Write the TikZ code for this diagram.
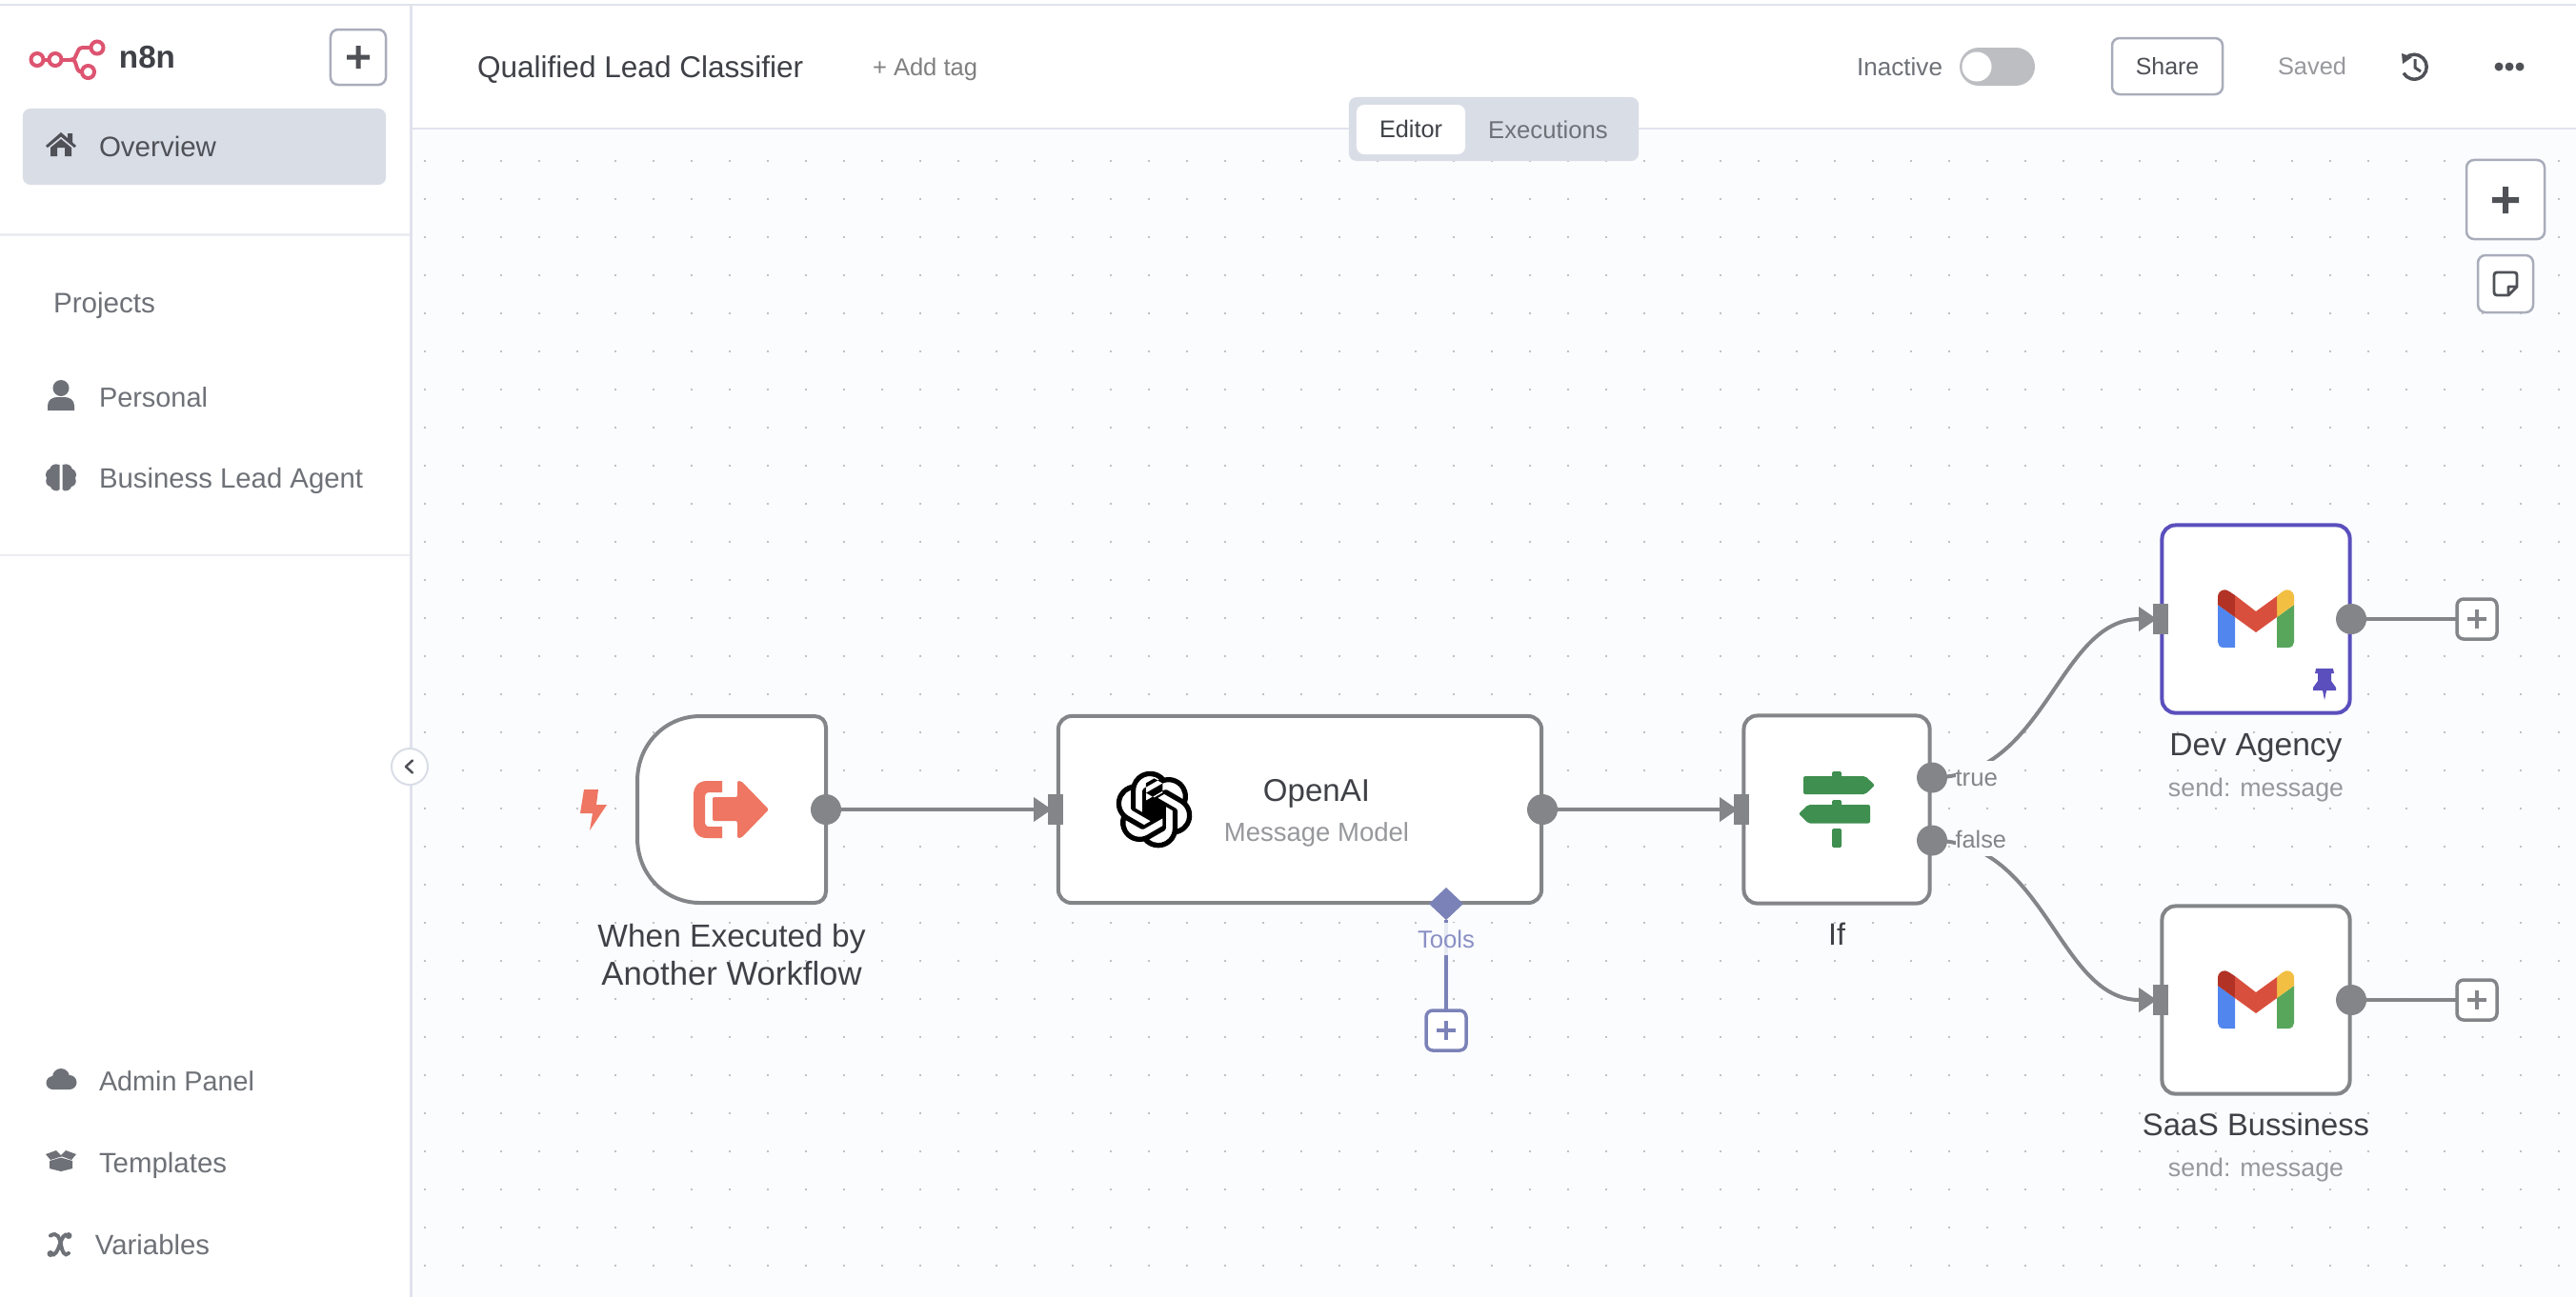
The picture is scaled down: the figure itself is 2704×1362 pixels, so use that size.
\documentclass[tikz,border=0pt]{standalone}
\usepackage{fontspec}
\usepackage{graphicx}
\setmainfont{Liberation Sans}
\usetikzlibrary{arrows.meta,shapes.geometric,calc,svg.path}
\newdimen\pxu \pxu=0.28453pt
\newcommand\fitw[2]{\resizebox{#1\pxu}{!}{\rule[-.3em]{0pt}{1.3em}#2}}
\definecolor{canvas}{HTML}{FBFCFE}
\definecolor{rulec}{HTML}{E0E3EC}
\definecolor{softrule}{HTML}{ECEDF2}
\definecolor{panel}{HTML}{D9DDE6}
\definecolor{btn}{HTML}{A9ADBB}
\definecolor{edgeg}{HTML}{848588}
\definecolor{dark}{HTML}{3F4147}
\definecolor{mid}{HTML}{6E7177}
\definecolor{lite}{HTML}{97989C}
\definecolor{iconc}{HTML}{4F5157}
\definecolor{orangec}{HTML}{EE7662}
\definecolor{tool}{HTML}{7B82B8}
\definecolor{toolt}{HTML}{8A90C4}
\definecolor{pinc}{HTML}{5A4FBD}
\definecolor{logoc}{HTML}{DD5470}
\definecolor{signc}{HTML}{3F8F50}
\definecolor{toggle}{HTML}{BDBEC2}
\definecolor{gblue}{HTML}{5186EE}
\definecolor{ggreen}{HTML}{58A65C}
\definecolor{gyellow}{HTML}{F2BF42}
\definecolor{gdred}{HTML}{B23226}
\definecolor{gred}{HTML}{D94F3D}
\tikzset{
  x=0.01cm,y=-0.01cm,
  txt/.style={inner sep=0pt,outer sep=0pt,anchor=center},
  ltxt/.style={inner sep=0pt,outer sep=0pt,anchor=west},
  wfnode/.style={draw=edgeg,fill=white,line width=4\pxu,rounded corners=14\pxu,inner sep=0pt,outer sep=0pt},
  outport/.style={circle,fill=edgeg,minimum size=32\pxu,inner sep=0pt,outer sep=0pt},
  inport/.style={rectangle,fill=edgeg,minimum width=16\pxu,minimum height=32\pxu,inner sep=0pt,outer sep=0pt},
  flow/.style={draw=edgeg,line width=4\pxu,-{Triangle[length=5.4pt,width=7.1pt]},shorten >=-1.14pt},
  plusbox/.style={draw=edgeg,fill=white,line width=3.5\pxu,rounded corners=7\pxu,minimum width=42\pxu,minimum height=42\pxu,inner sep=0pt,outer sep=0pt},
  uibtn/.style={draw=btn,fill=white,line width=2.5\pxu,rounded corners=8\pxu,inner sep=0pt,outer sep=0pt},
  gicon/.pic={
    \fill[gblue] (0,16) -- (18,29) -- (18,61) -- (6,61) .. controls (2,61) and (0,58) .. (0,55) -- cycle;
    \fill[ggreen] (62,29) -- (80,16) -- (80,55) .. controls (80,58) and (78,61) .. (74,61) -- (62,61) -- cycle;
    \fill[gyellow] (62,7) -- (68,2) .. controls (73,-2) and (80,1) .. (80,8) -- (80,16) -- (62,29) -- cycle;
    \fill[gdred] (0,16) -- (0,8) .. controls (0,1) and (7,-2) .. (12,2) -- (18,6) -- (18,29) -- cycle;
    \fill[gred] (18,6) -- (40,23) -- (62,7) -- (62,29) -- (40,45) -- (18,29) -- cycle;
  }
}
\begin{document}
\begin{tikzpicture}
\useasboundingbox (0,0) rectangle (2704,1362);
\fill[white] (0,0) rectangle (2704,1362);
% canvas
\fill[canvas] (432,135) rectangle (2704,1362);
\foreach \gx in {446,486,...,2690}{
  \foreach \gy in {169,209,...,1362}{
    \fill[black!32] (\gx,\gy) circle[radius=1.1\pxu];
  }
}
% frame rules
\draw[rulec,line width=2.5\pxu] (0,5) -- (2704,5);
\draw[rulec,line width=3\pxu] (431,6) -- (431,1362);
\draw[rulec,line width=2.5\pxu] (432,135) -- (2704,135);
\draw[softrule,line width=2.5\pxu] (0,246.5) -- (430,246.5);
\draw[softrule,line width=2.5\pxu] (0,583) -- (430,583);
% logo
\begin{scope}[draw=logoc,line width=4\pxu]
\draw (39,62.5) circle[radius=6.5\pxu];
\draw (58,62.5) circle[radius=6.5\pxu];
\draw (102,50) circle[radius=6.5\pxu];
\draw (92.5,75.5) circle[radius=6.5\pxu];
\draw (45.5,62.5) -- (51.5,62.5);
\draw (64.5,62.5) -- (76,62.5);
\draw (95.5,50) -- (87,50) .. controls (79,50) and (82,62.5) .. (75,62.5) .. controls (82,62.5) and (78,75.5) .. (86,75.5);
\end{scope}
\node[txt,text=dark] (brand) at (154.5,60) {\fitw{59}{\bfseries n8n}};
\node[uibtn,minimum width=58\pxu,minimum height=58\pxu] (newbtn) at (376,60) {};
\fill[iconc] (373.5,48) rectangle (378.5,72) (364,57.5) rectangle (388,62.5);
% overview
\node[fill=panel,rounded corners=8\pxu,minimum width=381\pxu,minimum height=80\pxu,inner sep=0pt,outer sep=0pt] (ovw) at (214.5,154) {};
\fill[iconc] (64,139) -- (71,145) -- (71,140) -- (76,140) -- (76,149.5) -- (80,153) -- (78,155) -- (64,143.5) -- (50,155) -- (48,153) -- cycle
  (53,155) -- (64,146) -- (75,155) -- (75,164) -- (68,164) -- (68,155) -- (60,155) -- (60,164) -- (53,164) -- cycle;
\node[ltxt,text=iconc] (ovwt) at (104,154) {\fitw{123}{Overview}};
\node[ltxt,text=mid] (proj) at (56,318) {\fitw{107}{Projects}};
% person
\fill[mid] (64,407.5) circle[radius=8.5\pxu];
\fill[mid] (50,431) -- (50,426) .. controls (50,420) and (55,417) .. (60,417) -- (68,417) .. controls (73,417) and (78,420) .. (78,426) -- (78,431) -- cycle;
\node[ltxt,text=mid] (pers) at (104,417) {\fitw{114}{Personal}};
% brain
\fill[mid] (62.5,488) .. controls (57,486) and (53,489) .. (52.5,492) .. controls (48,494) and (47,499) .. (49,502) .. controls (47,506) and (49,510) .. (53,511) .. controls (54,515) and (60,517) .. (62.5,514) -- cycle;
\fill[mid] (65.5,488) .. controls (71,486) and (75,489) .. (75.5,492) .. controls (80,494) and (81,499) .. (79,502) .. controls (81,506) and (79,510) .. (75,511) .. controls (74,515) and (68,517) .. (65.5,514) -- cycle;
\node[ltxt,text=mid] (bla) at (104,502) {\fitw{277}{Business Lead Agent}};
% cloud
\fill[mid] (55.5,1137) circle[radius=7\pxu] (64,1131) circle[radius=9\pxu] (73,1136.5) circle[radius=7.5\pxu] (55,1136) rectangle (73,1144);
\node[ltxt,text=mid] (adm) at (104,1135) {\fitw{163}{Admin Panel}};
% box
\fill[mid] (52,1219) -- (64,1215.5) -- (76,1219) -- (76,1227) -- (64,1230) -- (52,1227) -- cycle;
\fill[mid] (48,1212) -- (59,1208) -- (64,1213) -- (69,1208) -- (80,1212) -- (75,1218) -- (65.5,1214.5) -- (64,1214.5) -- (53,1218) -- cycle;
\node[ltxt,text=mid] (tmpl) at (104,1221) {\fitw{134}{Templates}};
% x icon
\draw[mid,line width=4\pxu,line cap=round] (53,1297.5) .. controls (60,1293) and (63,1300) .. (64,1307) .. controls (65,1314) and (68,1320) .. (72,1316);
\draw[mid,line width=4\pxu,line cap=round] (72,1297.5) .. controls (67,1294) and (65,1301) .. (63,1306) .. controls (61,1312) and (58,1320) .. (53,1317);
\fill[mid] (53,1316.5) circle[radius=3.5\pxu] (72,1297.5) circle[radius=3.5\pxu];
\node[ltxt,text=mid] (vars) at (100,1307) {\fitw{120}{Variables}};
% header
\node[ltxt,text=dark] (title) at (501,70) {\fitw{342}{Qualified Lead Classifier}};
\node[ltxt,text=black!50] (addtag) at (916,71) {\fitw{110}{+ Add tag}};
\node[ltxt,text=mid] (inact) at (1949,70) {\fitw{90}{Inactive}};
\fill[toggle,rounded corners=20\pxu] (2057,50) rectangle (2136,90);
\fill[white] (2075,70) circle[radius=15.5\pxu];
\node[uibtn,minimum width=116\pxu,minimum height=59\pxu] (share) at (2275,69.5) {\fitw{66.5}{\textcolor{iconc}{Share}}};
\node[ltxt,text=lite] (saved) at (2391,70) {\fitw{72}{Saved}};
% history
\draw[iconc,line width=3.5\pxu] (2525,61) arc[start angle=135,end angle=-150,radius=13\pxu];
\fill[iconc] (2521,56) -- (2532,60) -- (2522,67) -- cycle;
\draw[iconc,line width=3\pxu] (2535,62) -- (2535,71) -- (2541,75);
% more
\fill[iconc] (2623,70) circle[radius=4.5\pxu] (2634,70) circle[radius=4.5\pxu] (2645,70) circle[radius=4.5\pxu];
% tabs
\node[fill=panel,rounded corners=8\pxu,minimum width=304\pxu,minimum height=67\pxu,inner sep=0pt,outer sep=0pt] (tabs) at (1568,135.5) {};
\node[fill=white,rounded corners=8\pxu,minimum width=114\pxu,minimum height=52\pxu,inner sep=0pt,outer sep=0pt] (edtab) at (1481,136) {\fitw{66}{\textcolor{dark}{Editor}}};
\node[txt,text=mid] (extab) at (1625,136) {\fitw{125.5}{Executions}};
% canvas buttons
\node[uibtn,minimum width=82\pxu,minimum height=83\pxu] (bigplus) at (2630,209.5) {};
\fill[iconc] (2627,196) rectangle (2633,224) (2616,207) rectangle (2644,213);
\node[uibtn,minimum width=58\pxu,minimum height=60\pxu] (sticky) at (2630,298) {};
\draw[iconc,line width=2.8\pxu,line join=round] (2633,310) -- (2621,310) .. controls (2619,310) and (2618,309) .. (2618,307) -- (2618,289) .. controls (2618,287) and (2619,286) .. (2621,286) -- (2639,286) .. controls (2641,286) and (2642,287) .. (2642,289) -- (2642,301) -- (2633,310) -- (2633,301) -- (2642,301);
% collapse
\node[circle,draw=panel,fill=white,line width=2\pxu,minimum size=38\pxu,inner sep=0pt] (coll) at (430,805) {};
\draw[iconc,line width=2.5\pxu,line cap=round,line join=round] (433,798.5) -- (426,805) -- (433,811.5);
% trigger
\node[inner sep=0pt,outer sep=0pt,minimum width=197\pxu,minimum height=197\pxu] (trig) at (768,850) {};
\draw[edgeg,fill=white,line width=4\pxu] (735,752) -- (855,752) .. controls (862,752) and (867,757) .. (867,764) -- (867,936) .. controls (867,943) and (862,948) .. (855,948) -- (735,948) .. controls (698,948) and (669,918) .. (669,880) -- (669,820) .. controls (669,782) and (698,752) .. (735,752) -- cycle;
% trigger icon
\fill[orangec] (758,820) -- (742,820) .. controls (733,820) and (728,826) .. (728,835) -- (728,865) .. controls (728,874) and (733,880) .. (742,880) -- (758,880) -- (758,868) -- (745,868) .. controls (741,868) and (740,866) .. (740,862) -- (740,838) .. controls (740,834) and (741,832) .. (745,832) -- (758,832) -- cycle;
\fill[orangec,rounded corners=2\pxu] (748,837) -- (774,837) -- (774,820) -- (778,820) -- (807,850) -- (778,880) -- (774,880) -- (774,862) -- (748,862) -- cycle;
\fill[orangec] (613,829) -- (628,829) -- (626,845) -- (637,845) -- (619,872) -- (622,854) -- (609,854) -- cycle;
% openai
\node[wfnode,minimum width=507\pxu,minimum height=196\pxu] (openai) at (1364.5,850) {};
\begin{scope}[shift={(1211.5,850)},scale=.955,yscale=-1,xshift=-12pt,yshift=-12pt]
\fill[black] svg {M22.2819 9.8211a5.9847 5.9847 0 0 0-.5157-4.9108 6.0462 6.0462 0 0 0-6.5098-2.9A6.0651 6.0651 0 0 0 4.9807 4.1818a5.9847 5.9847 0 0 0-3.9977 2.9 6.0462 6.0462 0 0 0 .7427 7.0966 5.98 5.98 0 0 0 .511 4.9107 6.051 6.051 0 0 0 6.5146 2.9001A5.9847 5.9847 0 0 0 13.2599 24a6.0557 6.0557 0 0 0 5.7718-4.2058 5.9894 5.9894 0 0 0 3.9977-2.9001 6.0557 6.0557 0 0 0-.7475-7.0729zm-9.022 12.6081a4.4755 4.4755 0 0 1-2.8764-1.0408l.1419-.0804 4.7783-2.7582a.7948.7948 0 0 0 .3927-.6813v-6.7369l2.02 1.1686a.071.071 0 0 1 .038.052v5.5826a4.504 4.504 0 0 1-4.4945 4.4944zm-9.6607-4.1254a4.4708 4.4708 0 0 1-.5346-3.0137l.142.0852 4.783 2.7582a.7712.7712 0 0 0 .7806 0l5.8428-3.3685v2.3324a.0804.0804 0 0 1-.0332.0615L9.74 19.9502a4.4992 4.4992 0 0 1-6.1408-1.6464zM2.3408 7.8956a4.485 4.485 0 0 1 2.3655-1.9728V11.6a.7664.7664 0 0 0 .3879.6765l5.8144 3.3543-2.0201 1.1685a.0757.0757 0 0 1-.071 0l-4.8303-2.7865A4.504 4.504 0 0 1 2.3408 7.872zm16.5963 3.8558L13.1038 8.364 15.1192 7.2a.0757.0757 0 0 1 .071 0l4.8303 2.7913a4.4944 4.4944 0 0 1-.6765 8.1042v-5.6772a.79.79 0 0 0-.407-.667zm2.0107-3.0231l-.142-.0852-4.7735-2.7818a.7759.7759 0 0 0-.7854 0L9.409 9.2297V6.8974a.0662.0662 0 0 1 .0284-.0615l4.8303-2.7866a4.4992 4.4992 0 0 1 6.6802 4.66zM8.3065 12.863l-2.02-1.1638a.0804.0804 0 0 1-.038-.0567V6.0742a4.4992 4.4992 0 0 1 7.3757-3.4537l-.142.0805L8.704 5.459a.7948.7948 0 0 0-.3927.6813zm1.0976-2.3654l2.602-1.4998 2.6069 1.4998v2.9994l-2.5974 1.4997-2.6067-1.4997Z};
\end{scope}
\node[txt,text=dark] (oait) at (1382,830) {\fitw{112}{OpenAI}};
\node[txt,text=lite] (oais) at (1382,874) {\fitw{194}{Message Model}};
% if
\node[wfnode,minimum width=195\pxu,minimum height=197\pxu] (ifn) at (1928,850) {};
\fill[signc,rounded corners=1.5\pxu] (1923,840) rectangle (1933,846) (1923,870) rectangle (1933,890) (1923,810) rectangle (1933,816);
\fill[signc,rounded corners=2\pxu] (1893,815) -- (1958,815) -- (1968,824.5) -- (1958,834) -- (1893,834) -- cycle;
\fill[signc,rounded corners=2\pxu] (1963,845) -- (1898,845) -- (1888,854.5) -- (1898,864.5) -- (1963,864.5) -- cycle;
% gmail nodes
\node[wfnode,draw=pinc,minimum width=197\pxu,minimum height=197\pxu] (dev) at (2368,650) {};
\node[wfnode,minimum width=197\pxu,minimum height=197\pxu] (saas) at (2368,1050) {};
\pic at (2328,619) {gicon};
\pic at (2328,1019) {gicon};
% pin
\fill[pinc] (2431,702) -- (2449,702) -- (2450,707) -- (2447,707) -- (2447,715) -- (2452,722) -- (2452,725) -- (2442,725) -- (2440,735) -- (2438,725) -- (2428,725) -- (2428,722) -- (2433,715) -- (2433,707) -- (2430,707) -- cycle;
% ports
\node[outport] (pTrig) at (867,850) {};
\node[inport] (pOaiIn) at (1108,850) {};
\node[outport] (pOaiOut) at (1619,850) {};
\node[inport] (pIfIn) at (1828,850) {};
\node[outport] (pTrue) at (2028,816.5) {};
\node[outport] (pFalse) at (2028,882.5) {};
\node[inport] (pDevIn) at (2268,650) {};
\node[outport] (pDevOut) at (2468,650) {};
\node[inport] (pSaasIn) at (2268,1050) {};
\node[outport] (pSaasOut) at (2468,1050) {};
\node[plusbox] (addDev) at (2600,650) {};
\node[plusbox] (addSaas) at (2600,1050) {};
\node[plusbox,draw=tool] (addTool) at (1518,1082) {};
\node[diamond,fill=tool,aspect=1.06,minimum width=36\pxu,minimum height=34\pxu,inner sep=0pt,outer sep=0pt] (dia) at (1518,949) {};
% edges
\draw[flow] (pTrig) -- (pOaiIn.west);
\draw[flow] (pOaiOut) -- (pIfIn.west);
\draw[flow] (pTrue.center) .. controls +(120,0) and +(-100,0) .. (pDevIn.west);
\draw[flow] (pFalse.center) .. controls +(120,0) and +(-100,0) .. (pSaasIn.west);
\draw[draw=edgeg,line width=4\pxu] (pDevOut) -- (addDev);
\draw[draw=edgeg,line width=4\pxu] (pSaasOut) -- (addSaas);
\draw[draw=tool,line width=3.5\pxu] (dia) -- (addTool);
% plus glyphs
\foreach \n/\c in {addDev/edgeg,addSaas/edgeg,addTool/tool}{
  \draw[\c,line width=4\pxu] ($(\n)+(-10,0)$) -- ($(\n)+(10,0)$);
  \draw[\c,line width=4\pxu] ($(\n)+(0,-10)$) -- ($(\n)+(0,10)$);
}
% edge labels
\node[ltxt,fill=canvas,text=edgeg,minimum height=24\pxu] (ltrue) at (2052.5,816) {\fitw{44.5}{true}};
\node[ltxt,fill=canvas,text=edgeg,minimum height=24\pxu] (lfalse) at (2052.5,882) {\fitw{53.5}{false}};
\node[txt,fill=canvas,fill opacity=.85,text opacity=1,text=toolt,minimum height=24\pxu] (ltool) at (1518,986) {\fitw{60}{Tools}};
% node labels
\node[txt,text=dark] (trigl1) at (768,983) {\fitw{281}{When Executed by}};
\node[txt,text=dark] (trigl2) at (768,1022) {\fitw{273}{Another Workflow}};
\node[txt,text=dark] (ifl) at (1928,981) {\fitw{18}{If}};
\node[txt,text=dark] (devl) at (2368,782) {\fitw{181}{Dev Agency}};
\node[txt,text=lite] (devs) at (2368,827) {\fitw{184}{send: message}};
\node[txt,text=dark] (saasl) at (2368,1181) {\fitw{238}{SaaS Bussiness}};
\node[txt,text=lite] (saass) at (2368,1226.5) {\fitw{184}{send: message}};
\end{tikzpicture}
\end{document}
